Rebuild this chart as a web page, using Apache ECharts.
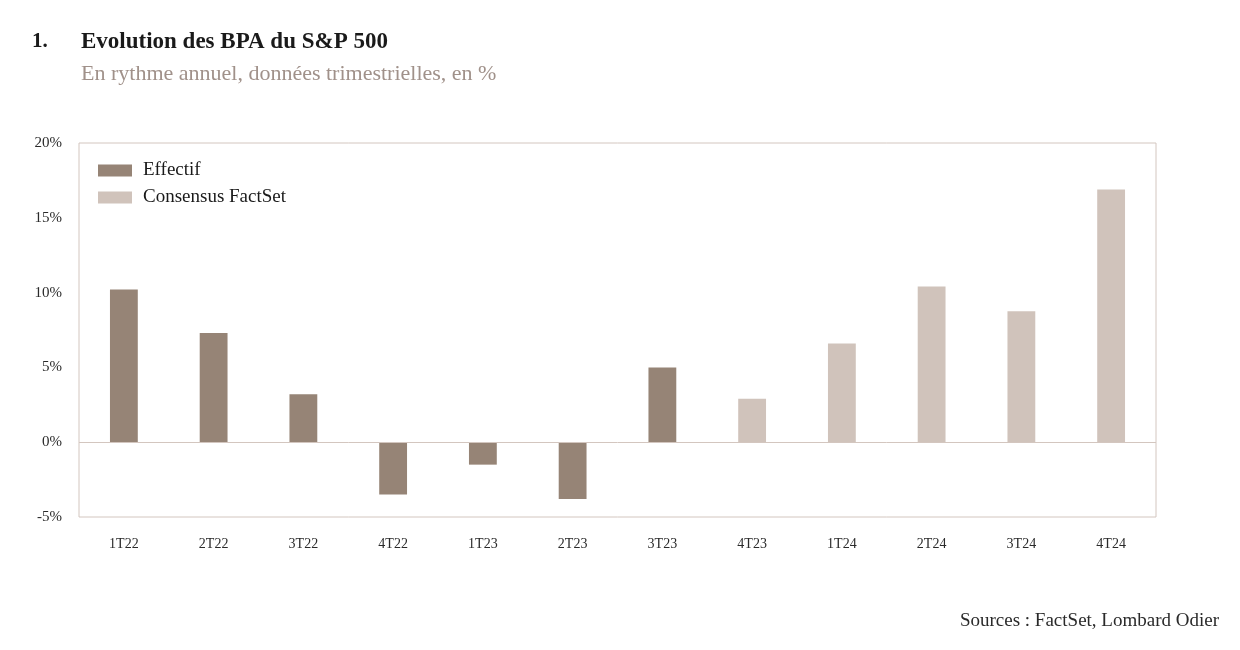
<!DOCTYPE html>
<html><head><meta charset="utf-8">
<script src="https://cdn.jsdelivr.net/npm/echarts@6/dist/echarts.min.js"></script>
<style>html,body{margin:0;padding:0;background:#fff}#c{width:1240px;height:650px}</style>
</head><body><div id="c"></div>
<script>
const categories = ['1T22','2T22','3T22','4T22','1T23','2T23','3T23','4T23','1T24','2T24','3T24','4T24'];
const effectif = [10.2, 7.3, 3.2, -3.5, -1.5, -3.8, 5.0, null, null, null, null, null];
const consensus = [null, null, null, null, null, null, null, 2.9, 6.6, 10.4, 8.75, 16.9];
const yTicks = {min: -5, max: 20, interval: 5};

const font = '"Liberation Serif", "DejaVu Serif", serif';
const chart = echarts.init(document.getElementById('c'));
chart.setOption({
  animation: false,
  textStyle: {fontFamily: font},
  title: [
    {text: '1.', left: 27, top: 26, textStyle: {fontFamily: font, fontSize: 21, fontWeight: 'bold', color: '#1a1a1a'}},
    {text: 'Evolution des BPA du S&P 500', left: 76, top: 26, textStyle: {fontFamily: font, fontSize: 23, fontWeight: 'bold', color: '#1a1a1a'}},
    {text: 'En rythme annuel, données trimestrielles, en %', left: 76, top: 58, textStyle: {fontFamily: font, fontSize: 22, fontWeight: 'normal', color: '#a0918a'}},
    {text: 'Sources : FactSet, Lombard Odier', right: 16, top: 607, textStyle: {fontFamily: font, fontSize: 19, fontWeight: 'normal', color: '#2a2a2a'}}
  ],
  legend: {
    orient: 'vertical', left: 93, top: 156, itemWidth: 34, itemHeight: 12, itemGap: 8, icon: 'rect',
    textStyle: {fontFamily: font, fontSize: 19, color: '#1a1a1a', padding: [0, 0, 0, 6]},
    data: ['Effectif', 'Consensus FactSet']
  },
  grid: {left: 79, right: 84, top: 143, bottom: 133, show: true, borderColor: '#d3c6bf', borderWidth: 1},
  xAxis: {
    type: 'category', data: categories,
    axisLine: {show: false}, axisTick: {show: false},
    axisLabel: {margin: 20, fontSize: 14, color: '#2a2a2a', fontFamily: font},
    position: 'bottom'
  },
  yAxis: {
    type: 'value', min: yTicks.min, max: yTicks.max, interval: yTicks.interval,
    axisLabel: {formatter: '{value}%', margin: 17, fontSize: 15, color: '#2a2a2a', fontFamily: font},
    splitLine: {show: false}, axisLine: {show: false}, axisTick: {show: false}
  },
  series: [
    {name: 'Effectif', type: 'bar', stack: 'a', data: effectif, barWidth: '31%', itemStyle: {color: '#968476'},
     markLine: {silent: true, symbol: 'none', label: {show: false}, lineStyle: {color: '#d3c6bf', width: 1, type: 'solid'}, data: [{yAxis: 0}]}},
    {name: 'Consensus FactSet', type: 'bar', stack: 'a', data: consensus, barWidth: '31%', itemStyle: {color: '#d0c3bb'}}
  ]
});
</script></body></html>
